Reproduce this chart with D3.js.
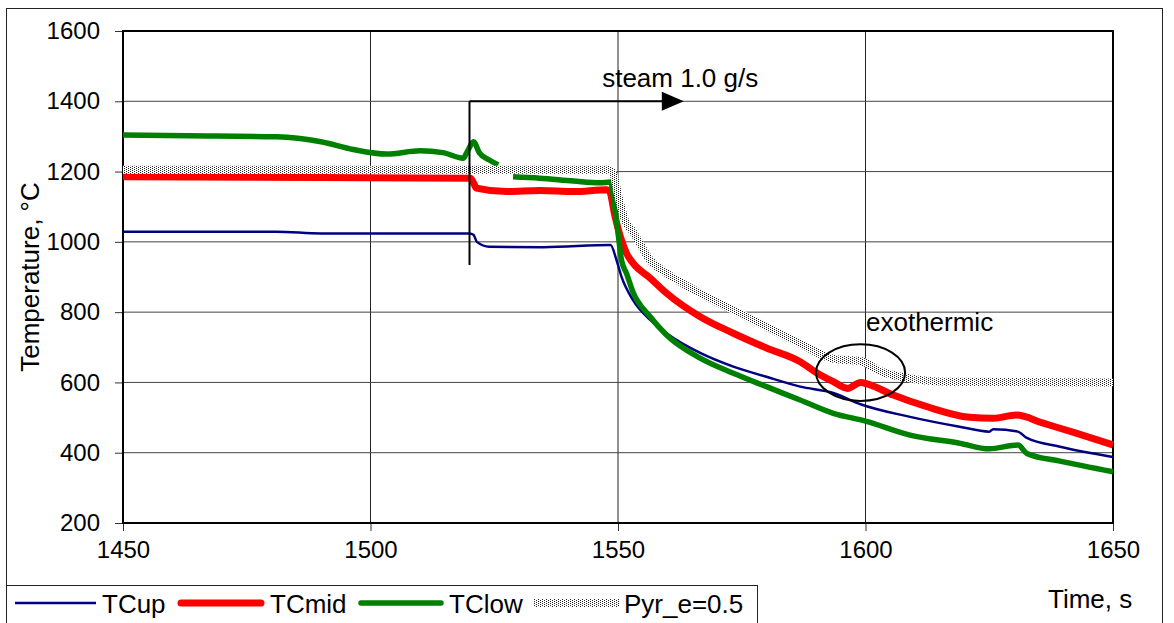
<!DOCTYPE html>
<html>
<head>
<meta charset="utf-8">
<script src="https://cdn.jsdelivr.net/npm/d3@7"></script>
<style>
  html, body { margin: 0; padding: 0; background: #fff; }
  svg { display: block; font-family: "Liberation Sans", Arial, sans-serif; }
</style>
</head>
<body>
<svg id="chart" width="1174" height="623"></svg>
<script>
// ---------------- data ----------------
const xTicks = [1450, 1500, 1550, 1600, 1650];
const yTicks = [200, 400, 600, 800, 1000, 1200, 1400, 1600];

const seriesNames = ["TCup", "TCmid", "TClow", "Pyr_e=0.5"];

const tcupTime = [1450, 1481, 1490, 1520, 1520.8, 1521.5, 1524, 1535, 1548.5, 1549.7, 1550.7, 1553, 1556.5, 1559.8, 1566.6, 1573.3, 1580, 1586.8, 1593.5, 1599, 1609, 1619, 1625, 1625.8, 1630.8, 1632.6, 1639.3, 1650];
const tcupTemp = [1029, 1029, 1024, 1024, 1020, 1000, 986, 985, 991, 948, 901, 835, 778, 740, 684, 645, 616, 588, 570, 538, 502, 474, 460, 467, 460, 442, 417, 388];

const tcmidTime = [1450, 1490, 1520.2, 1520.8, 1521.4, 1527.5, 1534.2, 1541, 1547.7, 1548.3, 1549.4, 1550.7, 1551.7, 1553, 1556.5, 1559.8, 1566.6, 1573.3, 1580, 1586.8, 1590.2, 1593.5, 1596.4, 1599, 1600.5, 1605.6, 1612.4, 1621, 1625.8, 1630.5, 1635.9, 1642.7, 1650];
const tcmidTemp = [1185, 1183, 1181, 1168, 1153, 1143, 1146, 1143, 1148, 1143, 1072, 1005, 968, 940, 897, 854, 787, 740, 698, 659, 627, 602, 583, 600, 595, 564, 531, 501, 498, 507, 484, 455, 422];

const tclowTime = [1450, 1463, 1481, 1490, 1496.5, 1503.3, 1510, 1514.6, 1518.7, 1519.7, 1520.8, 1522, 1524, 1525.8, 1527, 1528.8, 1534.2, 1541, 1546.4, 1548.5, 1549.4, 1550.1, 1550.7, 1551.7, 1553, 1556.5, 1559.8, 1566.6, 1573.3, 1580, 1586.8, 1593.5, 1600, 1609, 1619, 1625, 1630.8, 1632.6, 1639.3, 1650];
const tclowTemp = [1304, 1302, 1299, 1285, 1263, 1250, 1259, 1254, 1238, 1261, 1285, 1253, 1233, 1219, null, 1185, 1181, 1173, 1168, 1170, 1091, 1015, 948, 911, 858, 787, 735, 669, 626, 588, 550, 512, 490, 450, 427, 411, 422, 398, 376, 346];

const pyrTime = [1450, 1548, 1549, 1550.1, 1551.4, 1553, 1556.5, 1559.8, 1566.6, 1573.3, 1580, 1586.8, 1593.5, 1599, 1603, 1608.3, 1616.4, 1650];
const pyrTemp = [1205, 1205, 1195, 1128, 1062, 1029, 948, 911, 854, 806, 759, 711, 667, 661, 632, 613, 602, 600];

// annotation anchors (data units)
const steamStart = 1520, steamLevel = 1400, steamLineBottom = 934, steamArrowTip = 1563.3;
const steamLabel = "steam 1.0 g/s";
const exoCenter = [1599, 628], exoRadius = [9, 80.5];
const exoLabel = "exothermic";

// ---------------- layout ----------------
const svg = d3.select("#chart");
const x = d3.scaleLinear().domain([1450, 1650]).range([123, 1113]);
const y = d3.scaleLinear().domain([200, 1600]).range([523, 31]);

// pattern for pyrometer band
const defs = svg.append("defs");
const pat = defs.append("pattern").attr("id", "dots").attr("patternUnits", "userSpaceOnUse")
  .attr("width", 4).attr("height", 2);
pat.append("rect").attr("width", 4).attr("height", 2).attr("fill", "#fff");
pat.append("rect").attr("x", 0).attr("y", 0).attr("width", 1).attr("height", 1).attr("fill", "#222");
pat.append("rect").attr("x", 2).attr("y", 1).attr("width", 1).attr("height", 1).attr("fill", "#222");

// outer border
svg.append("rect").attr("x", 6.5).attr("y", 8.5).attr("width", 1156).attr("height", 650)
  .attr("fill", "none").attr("stroke", "#222").attr("stroke-width", 1);

// gridlines
const grid = svg.append("g");
grid.selectAll("line.v").data(xTicks.slice(1, -1)).join("line")
  .attr("x1", d => x(d)).attr("x2", d => x(d)).attr("y1", y(1600)).attr("y2", y(200))
  .attr("stroke", "#222").attr("stroke-width", 1);
grid.selectAll("line.h").data(yTicks.slice(1, -1)).join("line")
  .attr("x1", x(1450)).attr("x2", x(1650)).attr("y1", d => y(d)).attr("y2", d => y(d))
  .attr("stroke", "#444").attr("stroke-width", 1);

// axes
const yAxis = svg.append("g").attr("transform", `translate(${x(1450)},0)`)
  .call(d3.axisLeft(y).tickValues(yTicks).tickFormat(d3.format("d")).tickSize(8).tickPadding(15));
const xAxis = svg.append("g").attr("transform", `translate(0,${y(200)})`)
  .call(d3.axisBottom(x).tickValues(xTicks).tickFormat(d3.format("d")).tickSize(8).tickPadding(10));
[yAxis, xAxis].forEach(a => {
  a.select(".domain").remove();
  a.selectAll("line").attr("stroke", "#333").attr("stroke-width", 1);
  a.selectAll("text").attr("font-size", 24).attr("fill", "#000")
    .attr("font-family", "'Liberation Sans', Arial, sans-serif");
});

// plot frame
svg.append("rect").attr("x", x(1450)).attr("y", y(1600))
  .attr("width", x(1650) - x(1450)).attr("height", y(200) - y(1600))
  .attr("fill", "none").attr("stroke", "#000").attr("stroke-width", 2);

// series
const lineGen = d3.line().defined(d => d[1] != null).x(d => x(d[0])).y(d => y(d[1]))
  .curve(d3.curveMonotoneX);
const zip = (a, b) => a.map((t, i) => [t, b[i]]);

const plot = svg.append("g");
plot.append("path").datum(zip(tcupTime, tcupTemp)).attr("d", lineGen)
  .attr("fill", "none").attr("stroke", "#000080").attr("stroke-width", 2.5).attr("stroke-linejoin", "round");
plot.append("path").datum(zip(tcmidTime, tcmidTemp)).attr("d", lineGen)
  .attr("fill", "none").attr("stroke", "#ff0000").attr("stroke-width", 7).attr("stroke-linejoin", "round");
plot.append("path").datum(zip(tclowTime, tclowTemp)).attr("d", lineGen)
  .attr("fill", "none").attr("stroke", "#008000").attr("stroke-width", 5.5).attr("stroke-linejoin", "round");
plot.append("path").datum(zip(pyrTime, pyrTemp)).attr("d", lineGen)
  .attr("fill", "none").attr("stroke", "url(#dots)").attr("stroke-width", 8).attr("stroke-linejoin", "round");

// steam annotation
const ann = svg.append("g");
ann.append("line").attr("x1", x(steamStart)).attr("x2", x(steamStart))
  .attr("y1", y(steamLevel)).attr("y2", y(steamLineBottom)).attr("stroke", "#000").attr("stroke-width", 2);
const tipX = x(steamArrowTip), lvlY = y(steamLevel);
ann.append("line").attr("x1", x(steamStart)).attr("x2", tipX - 20)
  .attr("y1", lvlY).attr("y2", lvlY).attr("stroke", "#000").attr("stroke-width", 2);
ann.append("path").attr("d", `M${tipX},${lvlY} L${tipX - 22},${lvlY - 9.5} L${tipX - 22},${lvlY + 9.5} Z`).attr("fill", "#000");
ann.append("text").attr("x", x(1546.8)).attr("y", y(1441)).attr("font-size", 26).text(steamLabel);

// exothermic annotation
ann.append("ellipse").attr("cx", x(exoCenter[0])).attr("cy", y(exoCenter[1]))
  .attr("rx", x(exoCenter[0] + exoRadius[0]) - x(exoCenter[0]))
  .attr("ry", y(exoCenter[1]) - y(exoCenter[1] + exoRadius[1]))
  .attr("fill", "none").attr("stroke", "#000").attr("stroke-width", 2);
ann.append("text").attr("x", x(1600.1)).attr("y", y(746)).attr("font-size", 26).text(exoLabel);

// axis titles
svg.append("text").attr("transform", "translate(39,277) rotate(-90)").attr("text-anchor", "middle")
  .attr("font-size", 26).text("Temperature, °C");
svg.append("text").attr("x", 1048).attr("y", 608).attr("font-size", 26).text("Time, s");

// legend
const leg = svg.append("g");
leg.append("rect").attr("x", 6.5).attr("y", 585.5).attr("width", 751).attr("height", 60)
  .attr("fill", "#fff").attr("stroke", "#222").attr("stroke-width", 1);
const legItems = [
  { name: seriesNames[0], x1: 15, x2: 96, tx: 102, stroke: "#000080", w: 2.5, cap: "butt" },
  { name: seriesNames[1], x1: 181, x2: 261, tx: 270, stroke: "#ff0000", w: 7, cap: "round" },
  { name: seriesNames[2], x1: 361, x2: 441, tx: 449, stroke: "#008000", w: 5.5, cap: "round" },
  { name: seriesNames[3], x1: 534, x2: 620, tx: 624, stroke: "url(#dots)", w: 8, cap: "butt" }
];
legItems.forEach(it => {
  leg.append("line").attr("x1", it.x1).attr("x2", it.x2).attr("y1", 603).attr("y2", 603)
    .attr("stroke", it.stroke).attr("stroke-width", it.w).attr("stroke-linecap", it.cap);
  leg.append("text").attr("x", it.tx).attr("y", 613).attr("font-size", 26).text(it.name);
});
</script>
</body>
</html>
